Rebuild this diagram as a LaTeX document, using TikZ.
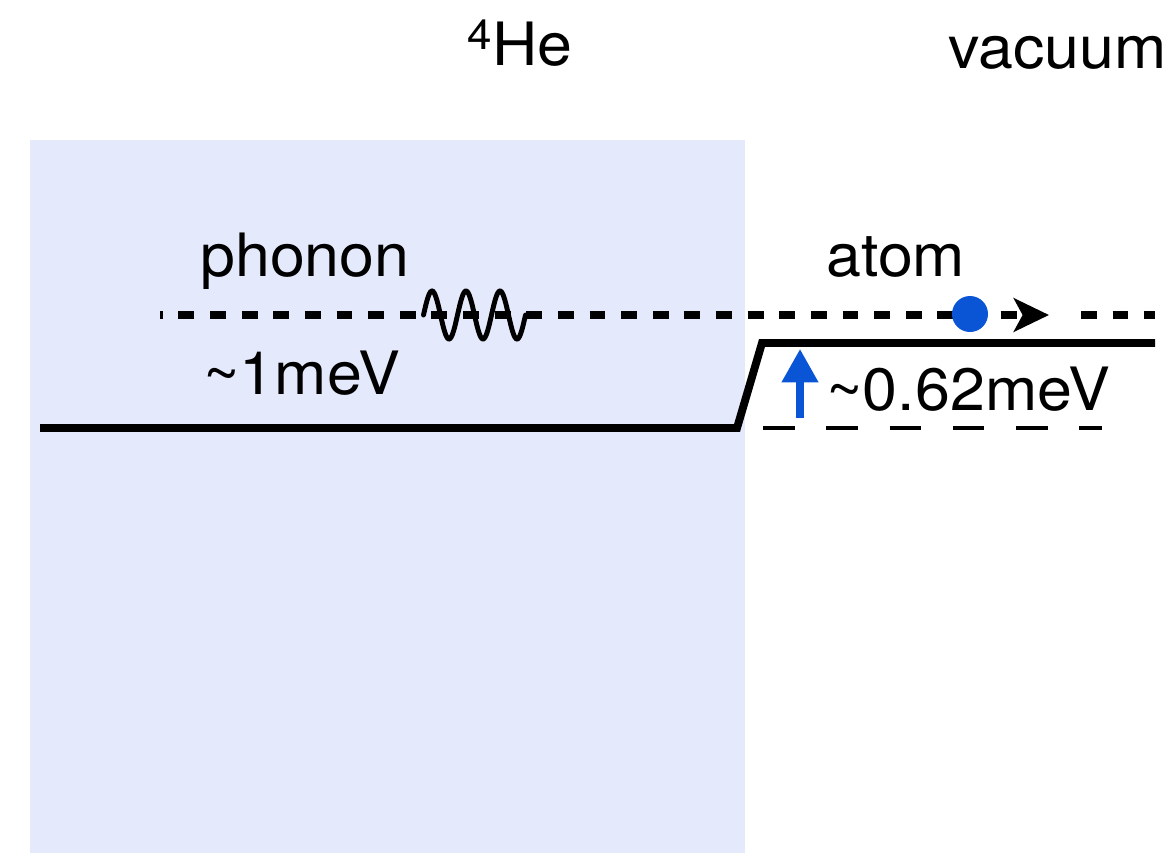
\documentclass[tikz,border=0pt]{standalone}
\usepackage{fontspec}
\setmainfont{TeX Gyre Heros}[FakeStretch=1.05]
\usetikzlibrary{arrows.meta}
\definecolor{hebg}{HTML}{E4E9FC}
\definecolor{dotblue}{HTML}{0A55D6}
\begin{document}
\begin{tikzpicture}[x=0.02cm,y=-0.02cm,
  lbl/.style={anchor=base west, inner sep=0pt, font=\fontsize{34}{40}\selectfont},
  level/.style={line width=4.5pt, line join=miter},
  topdash/.style={line width=4pt, dash pattern=on 9pt off 9pt},
  lowdash/.style={line width=2.3pt, dash pattern=on 18pt off 18pt},
  wave/.style={line width=2.8pt, line cap=round},
  gap/.style={dotblue, line width=4pt, -{Triangle[length=19pt, width=20pt]}}]
\useasboundingbox (0,0) rectangle (1169,853);
\fill[white] (0,0) rectangle (1169,853);
\fill[hebg] (30,140) rectangle (745,853);
% labels
\node[lbl] (he) at (467,65) {\textsuperscript{4}He};
\node[lbl] (vac) at (948,68) {vacuum};
\node[lbl] (ph) at (200,276) {phonon};
\node[lbl] (at) at (826,276) {atom};
\node[lbl] (e1) at (203,394) {\textasciitilde1meV};
\node[lbl] (e2) at (826,410) {\textasciitilde0.62meV};
% energy levels
\coordinate (l0) at (40,428);
\coordinate (l1) at (737,428);
\coordinate (l2) at (762,343);
\coordinate (l3) at (1155,343);
\draw[level] (l0) -- (l1) -- (l2) -- (l3);
\coordinate (d0) at (763,428);
\coordinate (d1) at (1102,428);
\draw[lowdash] (d0) -- (d1);
% trajectory
\coordinate (t0) at (160,315);
\coordinate (t1) at (1049,315);
\coordinate (t2) at (1081,315);
\coordinate (t3) at (1155,315);
\draw[topdash, dash phase=7.5pt, -{Stealth[length=20pt, width=19pt, inset=5pt]}] (t0) -- (t1);
\draw[topdash] (t2) -- (t3);
\node[circle, fill=dotblue, minimum size=0.72cm, inner sep=0pt] (dot) at (970,314) {};
\draw[wave] plot[domain=0:102, samples=120, smooth] ({423.5+\x}, {315-24*sin(10.588*\x)});
% gap arrow
\coordinate (a0) at (800,418);
\coordinate (a1) at (800,349);
\draw[gap] (a0) -- (a1);
\end{tikzpicture}
\end{document}
